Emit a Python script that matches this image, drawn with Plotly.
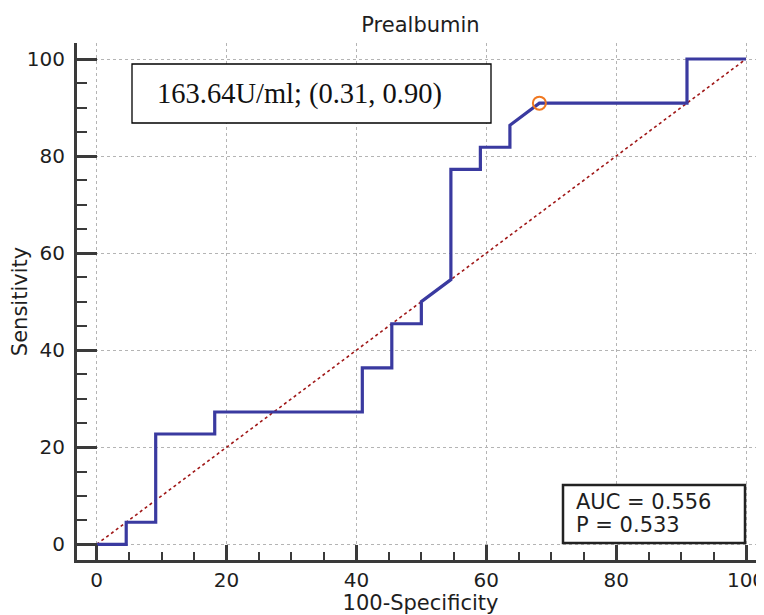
import plotly.graph_objects as go

# ROC curve points (100-Specificity, Sensitivity)
fpr = [0, 4.55, 4.55, 9.09, 9.09, 18.18, 18.18, 40.91, 40.91, 45.45, 45.45,
       50.0, 50.0, 54.55, 54.55, 59.09, 59.09, 63.64, 63.64, 68.18, 90.91, 90.91, 100]
tpr = [0, 0, 4.55, 4.55, 22.73, 22.73, 27.27, 27.27, 36.36, 36.36, 45.45,
       45.45, 50.0, 54.55, 77.27, 77.27, 81.82, 81.82, 86.36, 90.91, 90.91, 100, 100]
ref_x = [0, 100]
ref_y = [0, 100]
cut_x = [68.18]
cut_y = [90.91]
tick_vals = [0, 20, 40, 60, 80, 100]
tick_text = ["0", "20", "40", "60", "80", "100"]

title_text = "Prealbumin"
x_title = "100-Specificity"
y_title = "Sensitivity"
cut_label = "163.64U/ml; (0.31, 0.90)"
auc_label = "AUC = 0.556"
p_label = "P = 0.533"

AX = "#3a3a3a"
SANS = "DejaVu Sans"
TXT = "#1e1e1e"

# page body has an 8px default margin; compensate so the plot lands where the reference has it
OFF = 8
FIG_W, FIG_H = 764 - OFF, 615 - OFF
PL, PR, PT, PB = 77, 764, 43, 560   # plot area in page pixels

fig = go.Figure()
fig.add_trace(go.Scatter(x=ref_x, y=ref_y, mode="lines",
                         line=dict(color="#a01818", width=1.6, dash="dot"),
                         hoverinfo="skip", showlegend=False))
fig.add_trace(go.Scatter(x=fpr, y=tpr, mode="lines",
                         line=dict(color="#3a3aa0", width=3.2),
                         showlegend=False))
fig.add_trace(go.Scatter(x=cut_x, y=cut_y, mode="markers",
                         marker=dict(symbol="circle-open", size=13, color="#f07820",
                                     line=dict(width=2, color="#f07820")),
                         showlegend=False))

axis_common = dict(
    showline=True, linecolor=AX, linewidth=3,
    showgrid=True, gridcolor="#b4b4b4", gridwidth=1, griddash="dot",
    zeroline=False, ticks="inside", tickcolor=AX, tickwidth=3,
    tickvals=tick_vals, ticktext=tick_text,
    tickfont=dict(family=SANS, size=20, color=TXT),
    ticklabeloverflow="allow",
    mirror=False,
)

fig.update_layout(
    width=FIG_W, height=FIG_H,
    margin=dict(l=PL - OFF, r=0, t=PT - OFF, b=FIG_H - (PB - OFF)),
    plot_bgcolor="white", paper_bgcolor="white",
    title=dict(text=title_text, x=0.5, xref="paper", xanchor="center",
               y=1 - (25 - OFF) / FIG_H, yanchor="middle",
               font=dict(family=SANS, size=21, color=TXT)),
    xaxis=dict(range=[-3.03, 102.77], ticklen=15,
               minor=dict(dtick=5, tick0=0, ticks="inside", ticklen=8, tickwidth=1.5,
                          tickcolor=AX, showgrid=False),
               title=dict(text=x_title, font=dict(family=SANS, size=21, color=TXT),
                          standoff=3),
               **axis_common),
    yaxis=dict(range=[-3.23, 103.3], ticklen=20,
               ticklabelstandoff=5,
               minor=dict(dtick=5, tick0=0, ticks="inside", ticklen=10, tickwidth=1.5,
                          tickcolor=AX, showgrid=False),
               title=dict(text=y_title, font=dict(family=SANS, size=21, color=TXT),
                          standoff=2),
               **axis_common),
)

W, H = float(PR - PL), float(PB - PT)
def px(xp):
    return (xp - PL) / W
def py(yp):
    return (PB - yp) / H

fig.add_shape(type="rect", xref="paper", yref="paper",
              x0=px(132), x1=px(491), y0=py(123), y1=py(64),
              line=dict(color="#000000", width=1.3), fillcolor="white", layer="above")
fig.add_annotation(text=cut_label, xref="paper", yref="paper",
                   x=px(155), y=py(93.5), xanchor="left", yanchor="middle",
                   showarrow=False,
                   font=dict(family="Liberation Serif", size=28.5, color="#111111"))

fig.add_shape(type="rect", xref="paper", yref="paper",
              x0=px(563), x1=px(745), y0=py(543), y1=py(485),
              line=dict(color="#222222", width=2.5), fillcolor="white", layer="above")
fig.add_annotation(text=auc_label, xref="paper", yref="paper",
                   x=px(574), y=py(502), xanchor="left", yanchor="middle",
                   showarrow=False, font=dict(family=SANS, size=21, color=TXT))
fig.add_annotation(text=p_label, xref="paper", yref="paper",
                   x=px(574), y=py(525), xanchor="left", yanchor="middle",
                   showarrow=False, font=dict(family=SANS, size=21, color=TXT))

fig.write_html("out.html")
